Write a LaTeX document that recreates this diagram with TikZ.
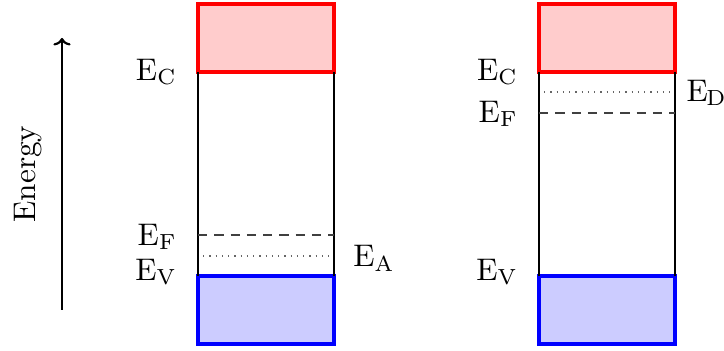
\documentclass[tikz,border=0pt]{standalone}
\usepackage{tikz}
\usetikzlibrary{arrows.meta}

\begin{document}
\begin{tikzpicture}[
  x=0.32pt, y=-0.32pt,
  font=\normalsize,
  every node/.style={inner sep=1.5pt},
  cband/.style ={draw=red,  line width=1.1pt, fill=red!20},
  vband/.style ={draw=blue, line width=1.1pt, fill=blue!20},
  gapedge/.style={draw=black, line width=0.65pt},
  fermi/.style ={draw=black!75, line width=0.4pt, dash pattern=on 3pt off 2.2pt},
  dopant/.style={draw=black!60, line width=0.4pt, dash pattern=on 0.4pt off 1.6pt},
  levlabel/.style={anchor=east},
  axis/.style  ={-{To[length=2.4pt,width=5.5pt]}, line width=0.7pt}
]
\useasboundingbox (0,0) rectangle (724,351);

% energy axis
\coordinate (elo) at (62,310);
\coordinate (ehi) at (62,38);
\draw[axis] (elo) -- (ehi);
\node[rotate=90] (energy) at (28,174) {Energy};

% p-type band diagram (left)
\draw[cband] (198,4) rectangle (334,72);
\draw[vband] (198,276) rectangle (334,344);
\draw[gapedge] (198,72) -- (198,276);
\draw[gapedge] (334,72) -- (334,276);
\draw[fermi]  (198,235) -- (334,235);
\draw[dopant] (203,256) -- (333,256);
\node[levlabel] (ecL) at (182,72)  {E\textsubscript{C}};
\node[levlabel] (efL) at (182,237) {E\textsubscript{F}};
\node[levlabel] (evL) at (182,272) {E\textsubscript{V}};
\node[anchor=west] (ea) at (348,258) {E\textsubscript{A}};

% n-type band diagram (right)
\draw[cband] (539,4) rectangle (675,72);
\draw[vband] (539,276) rectangle (675,344);
\draw[gapedge] (539,72) -- (539,276);
\draw[gapedge] (675,72) -- (675,276);
\draw[dopant] (544,92) -- (674,92);
\draw[fermi]  (539,113) -- (675,113);
\node[levlabel] (ecR) at (523,72)  {E\textsubscript{C}};
\node[levlabel] (efR) at (523,114) {E\textsubscript{F}};
\node[levlabel] (evR) at (523,272) {E\textsubscript{V}};
\node[anchor=west, inner sep=0pt] (ed) at (686,93) {E\kern-0.5pt\textsubscript{D}};

\end{tikzpicture}
\end{document}
